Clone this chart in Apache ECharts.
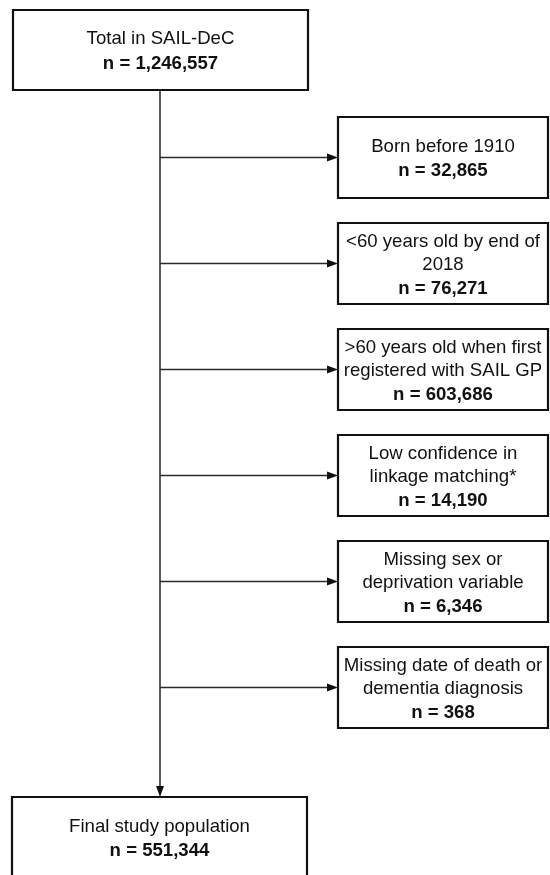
<!DOCTYPE html>
<html>
<head>
<meta charset="utf-8">
<script src="https://cdn.jsdelivr.net/npm/echarts@6/dist/echarts.min.js"></script>
<style>
  html, body { margin: 0; padding: 0; background: #fff; }
  #main { width: 550px; height: 875px; }
</style>
</head>
<body>
<div id="main"></div>
<script>
// 数据
const startLabel = 'Total in SAIL-DeC'
const startCount = 1246557
const excludeLabels = [
  'Born before 1910',
  '<60 years old by end of\n2018',
  '>60 years old when first\nregistered with SAIL GP',
  'Low confidence in\nlinkage matching*',
  'Missing sex or\ndeprivation variable',
  'Missing date of death or\ndementia diagnosis'
]
const excludeCounts = [32865, 76271, 603686, 14190, 6346, 368]
const finalLabel = 'Final study population'
const finalCount = 551344

// 布局（像素单位，y 向下）
const trunkX = 160
const mainX0 = 13, mainX1 = 308, mainH = 80
const startTop = 10
const finalTop = 797
const sideX0 = 338, sideX1 = 548, sideH = 81
const sideTop0 = 117, sideStep = 106
const FONT = '"Liberation Sans", Arial, Helvetica, sans-serif'
const INK = '#111'

const fmt = v => v.toLocaleString('en-US')

// 方框列表
const boxes = [{ x0: mainX0, y0: startTop, x1: mainX1, y1: startTop + mainH, label: startLabel, count: startCount, lh: 25 }]
excludeLabels.forEach((label, i) => {
  const top = sideTop0 + i * sideStep
  boxes.push({ x0: sideX0, y0: top, x1: sideX1, y1: top + sideH, label: label, count: excludeCounts[i], lh: 23.5 })
})
boxes.push({ x0: mainX0 - 1, y0: finalTop, x1: mainX1 - 1, y1: finalTop + mainH, label: finalLabel, count: finalCount, lh: 24 })

// 连线：0 = 主干，其余为指向排除框的箭头
const links = [{ vertical: true, from: startTop + mainH, to: finalTop }]
excludeLabels.forEach((label, i) => {
  links.push({ vertical: false, y: sideTop0 + i * sideStep + sideH / 2, from: trunkX, to: sideX0 })
})

const chart = echarts.init(document.getElementById('main'), null, { renderer: 'canvas' })

const option = {
  backgroundColor: '#fff',
  animation: false,
  grid: { left: 0, right: 0, top: 0, bottom: 0 },
  xAxis: { type: 'value', min: 0, max: 550, show: false },
  yAxis: { type: 'value', min: 0, max: 875, inverse: true, show: false },
  series: [
    {
      type: 'custom',
      z: 1,
      data: links.map((l, i) => [i]),
      renderItem (params, api) {
        const l = links[api.value(0)]
        const ah = 11, aw = 4
        if (l.vertical) {
          const a = api.coord([trunkX, l.from]), b = api.coord([trunkX, l.to])
          return {
            type: 'group',
            children: [
              { type: 'line', shape: { x1: a[0], y1: a[1], x2: b[0], y2: b[1] - ah + 1 }, style: { stroke: INK, lineWidth: 1.4 } },
              { type: 'polygon', shape: { points: [[b[0], b[1]], [b[0] - aw, b[1] - ah], [b[0] + aw, b[1] - ah]] }, style: { fill: INK } }
            ]
          }
        }
        const a = api.coord([l.from, l.y]), b = api.coord([l.to, l.y])
        return {
          type: 'group',
          children: [
            { type: 'line', shape: { x1: a[0], y1: a[1], x2: b[0] - ah + 1, y2: b[1] }, style: { stroke: '#2a2a2a', lineWidth: 1.3 } },
            { type: 'polygon', shape: { points: [[b[0], b[1]], [b[0] - ah, b[1] - aw], [b[0] - ah, b[1] + aw]] }, style: { fill: INK } }
          ]
        }
      }
    },
    {
      type: 'custom',
      z: 2,
      data: boxes.map((b, i) => [i]),
      renderItem (params, api) {
        const b = boxes[api.value(0)]
        const p0 = api.coord([b.x0, b.y0]), p1 = api.coord([b.x1, b.y1])
        const lines = b.label.split('\n').map(s => '{t|' + s + '}')
        lines.push('{n|n = ' + fmt(b.count) + '}')
        return {
          type: 'group',
          children: [
            {
              type: 'rect',
              shape: { x: p0[0], y: p0[1], width: p1[0] - p0[0], height: p1[1] - p0[1] },
              style: { fill: '#fff', stroke: INK, lineWidth: 2.2 }
            },
            {
              type: 'text',
              style: {
                x: (p0[0] + p1[0]) / 2,
                y: (p0[1] + p1[1]) / 2 + 1.5,
                text: lines.join('\n'),
                align: 'center',
                verticalAlign: 'middle',
                fill: INK,
                rich: {
                  t: { fontSize: 18.6, fontFamily: FONT, fill: INK, lineHeight: b.lh },
                  n: { fontSize: 18.6, fontFamily: FONT, fontWeight: 'bold', fill: INK, lineHeight: b.lh }
                }
              }
            }
          ]
        }
      }
    }
  ]
}

chart.setOption(option)
</script>
</body>
</html>
